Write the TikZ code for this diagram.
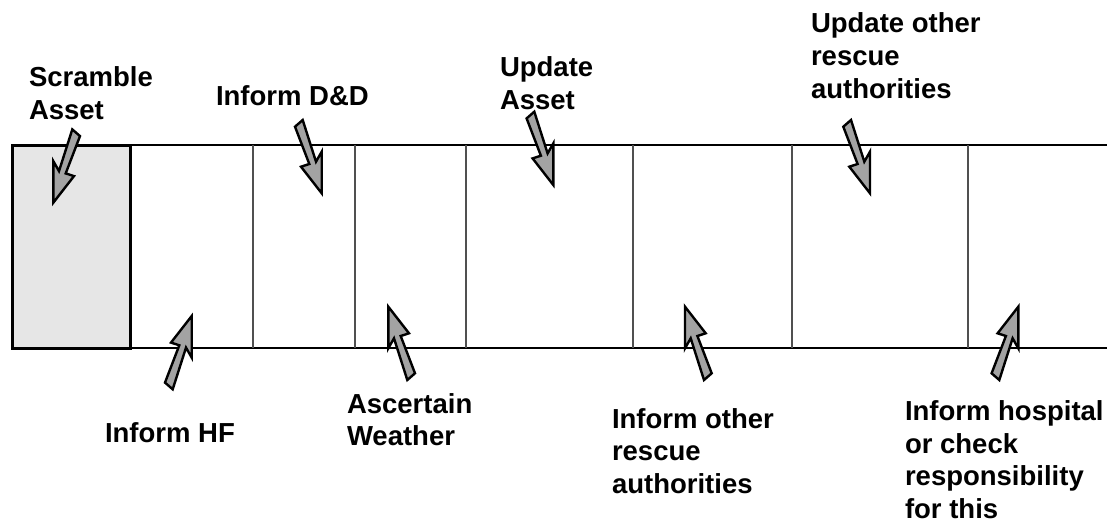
\documentclass[tikz,border=0pt]{standalone}
\usepackage{fontspec}
\setmainfont{Liberation Sans}
\definecolor{boxgray}{HTML}{E6E6E6}
\definecolor{arrgray}{HTML}{A3A3A3}
\definecolor{vgray}{HTML}{505050}
\tikzset{
  lbl/.style={anchor=base west, inner sep=0pt, outer sep=0pt},
  arrowstyle/.style={draw=black, fill=arrgray, line width=2.4pt, line join=miter},
  hline/.style={draw=black, line width=1.4pt},
  vline/.style={draw=vgray, line width=1.4pt},
  cellbox/.style={draw=black, fill=boxgray, line width=3pt}
}
\newcommand\lbltext[1]{\parbox[t]{8cm}{\fontsize{27.5pt}{32.7pt}\selectfont\bfseries #1}}
\newcommand\blkarrow[4]{%
  \draw[arrowstyle, shift={(#1,#2)}, xscale=#3, yscale=#4]
    (0,0) -- (20.7,26.6) -- (12.4,29.3) -- (26.7,66.6) -- (19,73.3) -- (5.7,31.6) -- (0,41.6) -- cycle;}
\begin{document}
\begin{tikzpicture}[x=1pt, y=-1pt]
\useasboundingbox (0,0) rectangle (1107,524);
% grid
\coordinate (tl) at (130,145);
\coordinate (tr) at (1107,145);
\coordinate (bl) at (130,348);
\coordinate (br) at (1107,348);
\draw[hline] (tl) -- (tr);
\draw[hline] (bl) -- (br);
\foreach \x in {253,355,466,633,792,968} {
  \draw[vline] (\x,145) -- (\x,348);
}
\draw[cellbox] (12,145) rectangle (130,348);
% arrows
\blkarrow{53.3}{202.7}{1}{-1}
\blkarrow{191.7}{316}{-1}{1}
\blkarrow{321.7}{193.3}{-1}{-1}
\blkarrow{388.3}{306.7}{1}{1}
\blkarrow{553.3}{185}{-1}{-1}
\blkarrow{685}{306.7}{1}{1}
\blkarrow{870}{193.3}{-1}{-1}
\blkarrow{1018.3}{306.7}{-1}{1}
% labels
\node[lbl] (scramble) at (29,87) {\lbltext{Scramble\\Asset}};
\node[lbl] (informdd) at (216,106) {\lbltext{Inform D\&D}};
\node[lbl] (updasset) at (500,77) {\lbltext{Update\\Asset}};
\node[lbl] (updother) at (811,33) {\lbltext{Update other\\rescue\\authorities}};
\node[lbl] (informhf) at (105,442) {\lbltext{Inform HF}};
\node[lbl] (ascertain) at (347,413) {\lbltext{Ascertain\\Weather}};
\node[lbl] (informother) at (612,428) {\lbltext{Inform other\\rescue\\authorities}};
\node[lbl] (informhosp) at (905,420.5) {\lbltext{Inform hospital\\or check\\responsibility\\for this}};
\end{tikzpicture}
\end{document}
